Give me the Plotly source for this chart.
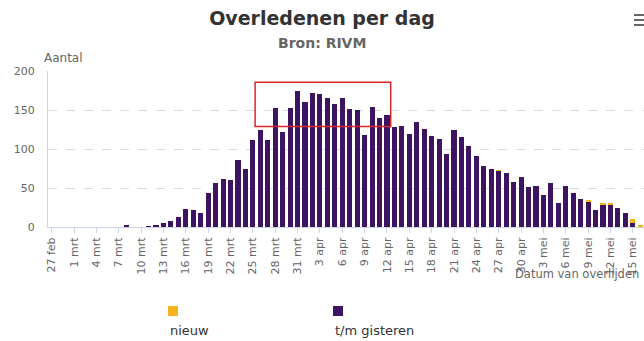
import pandas as pd
import plotly.graph_objects as go

# Daily deaths by date of death, 27 Feb - 16 May 2020
MAANDEN = {2: "feb", 3: "mrt", 4: "apr", 5: "mei"}
datums = pd.date_range("2020-02-27", "2020-05-16", freq="D")
dagen = [f"{d.day} {MAANDEN[d.month]}" for d in datums]

t_m_gisteren = [
    0, 0, 0, 0, 0, 0, 0, 0, 0, 0,
    2, 0, 0, 1, 2, 5, 8, 13, 23, 22,
    18, 43, 56, 61, 60, 86, 75, 112, 124, 112,
    153, 122, 152, 174, 160, 172, 171, 166, 158, 165,
    151, 150, 118, 154, 140, 143, 128, 129, 119, 135,
    126, 117, 113, 94, 125, 115, 104, 91, 78, 75,
    72, 69, 58, 64, 51, 52, 41, 56, 31, 52,
    43, 36, 33, 22, 29, 29, 24, 18, 5, 0,
]
nieuw = [
    0, 0, 0, 0, 0, 0, 0, 0, 0, 0,
    0, 0, 0, 0, 0, 0, 0, 0, 0, 0,
    0, 0, 0, 0, 0, 0, 0, 0, 0, 0,
    0, 0, 0, 0, 0, 0, 0, 0, 0, 0,
    0, 0, 0, 0, 0, 0, 0, 0, 0, 0,
    0, 0, 0, 0, 0, 0, 0, 0, 0, 0,
    1, 0, 0, 0, 0, 0, 0, 0, 0, 0,
    0, 0, 1, 0, 1, 1, 0, 0, 5, 2,
]
y_ticks = [0, 50, 100, 150, 200]
x_ticks = dagen[::3]

PAARS = "#3d1462"
GEEL = "#f7b31e"
FONT = "DejaVu Sans"

W, H = 644, 341
L, R, T, B = 48, 0, 71, 114


def px(x):
    return (x - L) / (W - L - R)


def py(y):
    return (H - B - y) / (H - T - B)


fig = go.Figure()
fig.add_trace(go.Bar(x=dagen, y=t_m_gisteren, name="t/m gisteren",
                     marker=dict(color=PAARS, line=dict(width=0))))
fig.add_trace(go.Bar(x=dagen, y=nieuw, name="nieuw",
                     marker=dict(color=GEEL, line=dict(width=0))))

fig.update_layout(
    width=W, height=H,
    margin=dict(l=L, r=R, t=T, b=B),
    barmode="stack", bargap=0.32,
    showlegend=False,
    paper_bgcolor="white", plot_bgcolor="white",
    font=dict(family=FONT, color="#666666"),
    title=dict(text="<b>Overledenen per dag</b>", xref="container", yref="container",
               x=322 / W, y=1 - 18 / H, xanchor="center", yanchor="middle",
               font=dict(size=19, color="#333333", family=FONT)),
)

fig.update_xaxes(
    type="category", range=[-0.5, len(dagen) - 0.5],
    tickmode="array", tickvals=x_ticks, ticktext=x_ticks,
    tickangle=-90, tickfont=dict(size=11, color="#666666", family=FONT),
    ticks="outside", ticklen=5, tickcolor="#ccd6eb",
    showline=True, linecolor="#ccd6eb", linewidth=1,
    showgrid=False, zeroline=False,
)
fig.update_yaxes(
    range=[0, 200], tickmode="array", tickvals=y_ticks,
    tickfont=dict(size=11, color="#666666", family=FONT),
    showgrid=True, gridcolor="#d6dce8", griddash="dash", gridwidth=1,
    showline=True, linecolor="#ccd6eb", linewidth=1,
    zeroline=False, ticks="", ticklabelstandoff=10,
)

# highlighted peak period
fig.add_shape(type="rect", xref="x", yref="y", x0=27.3, x1=45.5, y0=129, y1=185.5,
              line=dict(color="#d9262a", width=1.5), fillcolor="rgba(0,0,0,0)", layer="above")

annotations = [
    dict(text="<b>Bron: RIVM</b>", x=px(322), y=py(43), xanchor="center", yanchor="middle",
         font=dict(size=14, color="#666666")),
    dict(text="Aantal", x=px(42), y=py(58), xanchor="left", yanchor="middle",
         font=dict(size=12, color="#666666")),
    dict(text="Datum van overlijden", x=px(641), y=py(274), xanchor="right", yanchor="middle",
         font=dict(size=11.5, color="#666666")),
    dict(text="nieuw", x=px(168), y=py(330), xanchor="left", yanchor="middle",
         font=dict(size=13, color="#333333")),
    dict(text="t/m gisteren", x=px(333), y=py(330), xanchor="left", yanchor="middle",
         font=dict(size=13, color="#333333")),
]
for a in annotations:
    a.update(xref="paper", yref="paper", showarrow=False)
fig.update_layout(annotations=annotations)

# legend symbols
for x0, kleur in [(168, GEEL), (333, PAARS)]:
    fig.add_shape(type="rect", xref="paper", yref="paper",
                  x0=px(x0), x1=px(x0 + 10), y0=py(306), y1=py(316),
                  line=dict(width=0), fillcolor=kleur)

# context menu icon
for yy in (15, 20, 25):
    fig.add_shape(type="line", xref="paper", yref="paper",
                  x0=px(634), x1=px(652), y0=py(yy), y1=py(yy),
                  line=dict(color="#666666", width=2))

fig.write_html("out.html")
